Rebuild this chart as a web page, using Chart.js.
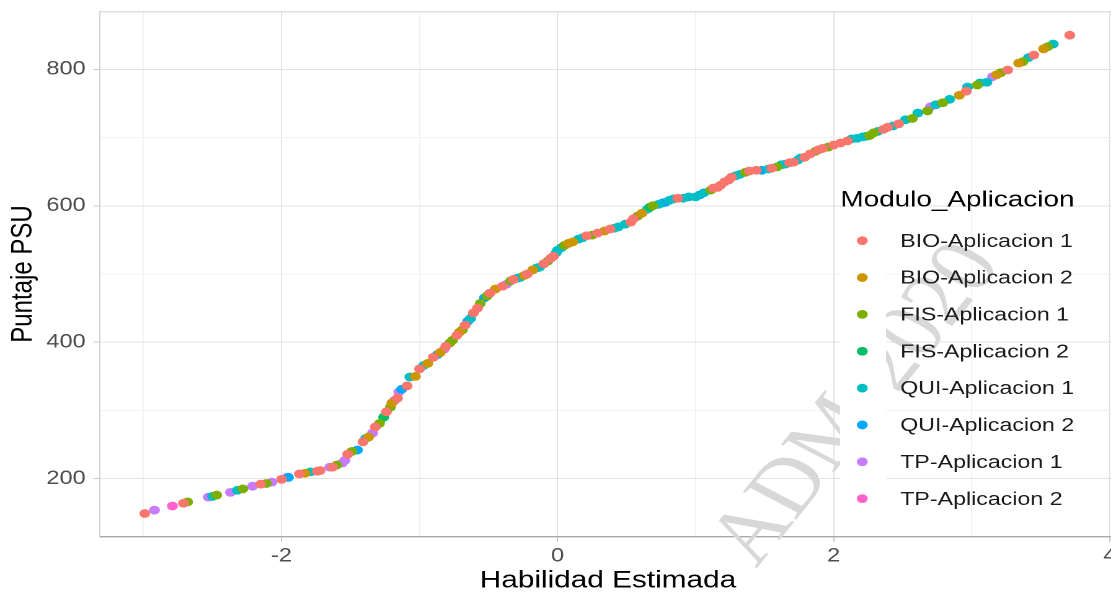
<!DOCTYPE html>
<html>
<head>
<meta charset="utf-8">
<script src="https://cdn.jsdelivr.net/npm/chart.js@4.4.1/dist/chart.umd.min.js"></script>
<style>
html,body{margin:0;padding:0;background:#fff;width:1111px;height:593px;overflow:hidden;}
#wrap{position:absolute;left:0;top:0;width:910px;height:593px;transform:scaleX(1.24);transform-origin:0 0;}
canvas{display:block;}
</style>
</head>
<body>
<div id="wrap"><canvas id="c" width="910" height="593"></canvas></div>
<script>
// ---------- data (x = Habilidad Estimada, y = Puntaje PSU) ----------
const SERIES_NAMES = ['BIO-Aplicacion 1','BIO-Aplicacion 2','FIS-Aplicacion 1','FIS-Aplicacion 2',
                      'QUI-Aplicacion 1','QUI-Aplicacion 2','TP-Aplicacion 1','TP-Aplicacion 2'];
const SERIES_COLORS = ['#F8766D','#CD9600','#7CAE00','#00BE67','#00BFC4','#00A9FF','#C77CFF','#FF61CC'];

const BIO1 = [[-2.99,149],[-2.71,164],[-2.15,192],[-2.00,199],[-1.87,207],[-1.74,211],[-1.72,212],[-1.63,217],
  [-1.52,236],[-1.41,254],[-1.32,276],[-1.24,298],[-1.16,318],[-1.09,336],[-1.00,361],[-0.90,378],[-0.81,394],
  [-0.73,410],[-0.67,425],[-0.61,443],[-0.58,450],[-0.49,472],[-0.40,482],[-0.32,492],[-0.22,500],[-0.10,515],
  [-0.05,523],[-0.03,526],[0.21,556],[0.29,560],[0.38,566],[0.53,576],[0.55,581],[0.87,611],[1.13,626],[1.16,627],
  [1.18,630],[1.21,635],[1.24,638],[1.26,642],[1.39,651],[1.44,652],[1.55,655],[1.68,663],[1.71,664],[1.79,671],
  [1.83,676],[1.89,682],[1.92,684],[2.00,689],[2.05,692],[2.10,695],[2.36,712],[2.39,715],[2.47,720],[2.96,768],
  [3.26,799],[3.45,821],[3.71,850]];
const BIO2 = [[-1.83,208],[-1.37,261],[-1.20,311],[-1.03,350],[-0.94,369],[-0.85,385],[-0.71,415],[-0.45,478],
  [-0.24,498],[-0.18,506],[0.08,545],[0.11,547],[0.34,563],[0.61,589],[2.91,762],[3.18,792],[3.34,809],[3.52,830]];
const FIS1 = [[-2.68,166],[-2.47,176],[-2.28,185],[-2.11,193],[-1.60,220],[-1.49,240],[-1.29,281],[-1.21,305],
  [-0.78,399],[-0.76,403],[-0.69,418],[-0.56,457],[-0.51,468],[-0.34,490],[-0.07,519],[0.05,542],[0.25,557],
  [0.58,585],[0.69,600],[1.11,623],[1.36,649],[1.59,657],[1.87,680],[1.96,686],[2.26,703],[2.29,707],[2.57,728],
  [2.68,739],[2.79,751],[3.04,777],[3.21,795],[3.37,811],[3.55,833]];
const FIS2 = [[-1.26,290],[0.67,598]];
const QUI1 = [[-2.50,174],[-2.32,183],[-1.79,210],[-1.39,259],[-1.07,349],[-0.97,366],[-0.63,435],[-0.29,494],
  [-0.27,495],[-0.15,509],[-0.13,510],[-0.01,531],[0.00,535],[0.15,551],[0.18,553],[0.41,567],[0.44,569],
  [0.49,573],[0.65,595],[0.73,602],[0.81,608],[0.84,610],[0.91,611],[0.95,613],[1.00,613],[1.06,619],[1.29,644],
  [1.32,646],[1.53,654],[1.62,660],[1.65,661],[1.74,667],[1.76,670],[2.13,698],[2.17,699],[2.21,701],[2.24,702],
  [2.32,709],[2.43,717],[2.52,726],[2.61,736],[2.74,748],[2.84,756],[2.97,774],[3.06,780],[3.11,781],[3.41,817],
  [3.59,837]];
const QUI2 = [[-1.95,202],[-1.45,242],[-1.13,331],[-0.87,382],[-0.65,431],[-0.53,465],[0.03,539],[0.76,604],
  [0.78,605],[1.03,616],[1.48,652]];
const TP1 = [[-2.92,154],[-2.53,173],[-2.37,180],[-2.21,189],[-2.07,195],[-1.96,202],[-1.65,217],[-1.56,223],
  [-1.54,227],[-1.34,267],[-1.18,315],[-1.15,327],[-0.82,390],[-0.37,485],[2.70,745],[3.15,789]];
const TP2 = [[-2.79,160]];

const SERIES_DATA = [BIO1, BIO2, FIS1, FIS2, QUI1, QUI2, TP1, TP2];

const X_TICKS = [-3,-2,-1,0,1,2,3,4];
const X_MAJOR = [-2,0,2,4];
const Y_TICKS = [200,300,400,500,600,700,800];
const Y_MAJOR = [200,400,600,800];

const X_TITLE = 'Habilidad Estimada';
const Y_TITLE = 'Puntaje PSU';
const LEGEND_TITLE = 'Modulo_Aplicacion';
const WATERMARK = 'ADM-2020';

// ---------- chart ----------
const FONT = '"Liberation Sans", Arial, sans-serif';
const TRANSPARENT = 'rgba(0,0,0,0)';

const decorPlugin = {
  id: 'decor',
  beforeDatasetsDraw(chart) {
    const {ctx, chartArea: a} = chart;
    ctx.save();
    ctx.strokeStyle = '#D2D2D2';
    ctx.lineWidth = 1;
    ctx.beginPath();
    ctx.moveTo(a.left, a.top + 0.5); ctx.lineTo(a.right, a.top + 0.5);
    ctx.moveTo(a.right - 0.5, a.top); ctx.lineTo(a.right - 0.5, a.bottom);
    ctx.stroke();
    ctx.restore();
  },
  afterDraw(chart) {
    const {ctx} = chart;
    // watermark
    ctx.save();
    ctx.translate(692, 405);
    ctx.rotate(-57 * Math.PI / 180);
    ctx.font = '78px "Liberation Serif", "Times New Roman", serif';
    ctx.fillStyle = '#D8D8D8';
    ctx.textAlign = 'center';
    ctx.textBaseline = 'middle';
    ctx.fillText(WATERMARK, 0, 0);
    ctx.restore();

    // legend
    ctx.save();
    const keyL = 677.4, keyW = 37.1, step = 36.85, firstY = 240.7;
    ctx.fillStyle = '#FFFFFF';
    ctx.fillRect(keyL, firstY - step / 2, keyW, step * SERIES_NAMES.length);
    ctx.fillStyle = '#000';
    ctx.font = '22.5px ' + FONT;
    ctx.textAlign = 'left';
    ctx.textBaseline = 'middle';
    ctx.fillText(LEGEND_TITLE, 677.7, 200.5);
    ctx.font = '18.7px ' + FONT;
    SERIES_NAMES.forEach((name, i) => {
      const cy = firstY + i * step;
      ctx.fillStyle = SERIES_COLORS[i];
      ctx.beginPath();
      ctx.arc(695.4, cy, 4.4, 0, Math.PI * 2);
      ctx.fill();
      ctx.fillStyle = '#1A1A1A';
      ctx.fillText(name, 726, cy + 1);
    });
    ctx.restore();
  }
};

new Chart(document.getElementById('c'), {
  type: 'scatter',
  data: {
    datasets: SERIES_DATA.map((arr, i) => ({
      label: SERIES_NAMES[i],
      data: arr.map(p => ({x: p[0], y: p[1]})),
      backgroundColor: SERIES_COLORS[i],
      borderColor: SERIES_COLORS[i],
      pointRadius: 4.4,
      pointHoverRadius: 4.4,
      pointBorderWidth: 0
    }))
  },
  options: {
    responsive: false,
    animation: false,
    devicePixelRatio: 2,
    events: [],
    layout: {padding: {left: 0, right: 10, top: 11.3, bottom: 0}},
    plugins: {legend: {display: false}, tooltip: {enabled: false}},
    scales: {
      x: {
        type: 'linear', min: -3.315, max: 4.045,
        afterBuildTicks: s => { s.ticks = X_TICKS.map(v => ({value: v})); },
        afterFit: s => { s.height = 56.3; s.paddingLeft = 0; s.paddingRight = 0; },
        grid: {
          color: c => X_MAJOR.includes(c.tick && c.tick.value) ? '#E2E2E2' : '#F1F1F1',
          lineWidth: 1,
          tickLength: 5,
          tickColor: c => X_MAJOR.includes(c.tick && c.tick.value) ? '#C4C4C4' : TRANSPARENT
        },
        border: {display: true, color: '#A8A8A8', width: 1.4},
        ticks: {
          autoSkip: false, maxRotation: 0, padding: 3,
          color: '#4D4D4D', font: {family: FONT, size: 19},
          callback: v => X_MAJOR.includes(v) ? String(v) : ''
        },
        title: {display: true, text: X_TITLE, color: '#000', font: {family: FONT, size: 24, lineHeight: 1}, padding: {top: 0, bottom: 0}}
      },
      y: {
        type: 'linear', min: 115, max: 885,
        afterBuildTicks: s => { s.ticks = Y_TICKS.map(v => ({value: v})); },
        afterFit: s => { s.width = 80.6; s.paddingTop = 0; s.paddingBottom = 0; },
        grid: {
          color: c => Y_MAJOR.includes(c.tick && c.tick.value) ? '#E2E2E2' : '#F1F1F1',
          lineWidth: 1,
          tickLength: 5.2,
          tickColor: c => Y_MAJOR.includes(c.tick && c.tick.value) ? '#C4C4C4' : TRANSPARENT
        },
        border: {display: true, color: '#D2D2D2', width: 1},
        ticks: {
          autoSkip: false, padding: 6.3,
          color: '#4D4D4D', font: {family: FONT, size: 19},
          callback: v => Y_MAJOR.includes(v) ? String(v) : ''
        },
        title: {display: true, text: Y_TITLE, color: '#000', font: {family: FONT, size: 24, lineHeight: 1}, padding: {top: 7, bottom: 0}}
      }
    }
  },
  plugins: [decorPlugin]
});
</script>
</body>
</html>
